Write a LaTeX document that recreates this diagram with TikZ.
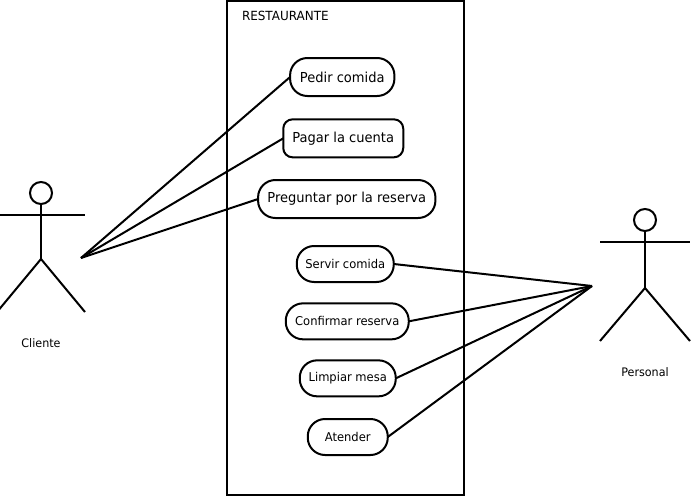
\documentclass[tikz,border=0pt]{standalone}
\usepackage{fontspec}
\setmainfont{DejaVu Sans}[FakeStretch=0.95]
\usetikzlibrary{positioning}

\begin{document}
\begin{tikzpicture}[
      x=0.75pt, y=-0.75pt,
      line width=1.5pt,
      caso/.style={draw, rounded corners=13pt, inner sep=0pt, outer sep=0pt, minimum height=27pt, align=center, font=\fontsize{9.1}{10}\selectfont},
      casog/.style={caso, minimum height=28.5pt, font=\fontsize{10.3}{11}\selectfont},
      cabeza/.style={draw, circle, inner sep=0pt, outer sep=0pt, minimum size=16.5pt},
      etiqueta/.style={inner sep=0pt, font=\fontsize{8.8}{10}\selectfont}
    ]
    \useasboundingbox (0,0) rectangle (699,496);

    % sistema
    \node[draw, inner sep=0pt, outer sep=0pt, minimum width=177.75pt, minimum height=370.5pt] (sistema) at (345.5,248) {};
    \node[etiqueta, anchor=west, font=\fontsize{9.45}{10}\selectfont] (titulo) at (241,16) {RESTAURANTE};

    % casos de uso
    \node[casog, minimum width=78.25pt] (pedir) at (342.25,77) {Pedir comida};
    \node[casog, minimum width=90pt, rounded corners=7pt, below=17.5pt of pedir, xshift=0.75pt] (pagar) {Pagar la cuenta};
    \node[casog, minimum width=133pt, below=17pt of pagar, xshift=2.625pt] (preguntar) {Preguntar por la reserva};
    \node[caso, minimum width=72.75pt, below=21pt of preguntar, xshift=-1.125pt] (servir) {Servir comida};
    \node[caso, minimum width=92.25pt, below=16pt of servir, xshift=1.5pt] (confirmar) {Confirmar reserva};
    \node[caso, minimum width=72pt, below=15.75pt of confirmar, xshift=0.375pt] (limpiar) {Limpiar mesa};
    \node[caso, minimum width=60pt, below=17pt of limpiar] (atender) {Atender};

    % actores
    \node[cabeza] (cabezacliente) at (41,193) {};
    \coordinate (cadera1) at (41,259);
    \draw (cabezacliente) -- (cadera1);
    \draw (-3,215) -- (85,215);
    \draw (-3,312) -- (cadera1) -- (85,312);
    \node[etiqueta, below=108.5pt of cabezacliente.center] (cliente) {Cliente};

    \node[cabeza] (cabezapersonal) at (645,220) {};
    \coordinate (cadera2) at (645,288);
    \draw (cabezapersonal) -- (cadera2);
    \draw (600,242) -- (690,242);
    \draw (600,341) -- (cadera2) -- (690,341);
    \node[etiqueta, below=110pt of cabezapersonal.center] (personal) {Personal};

    % conexiones
    \coordinate (c1) at (81,258);
    \coordinate (c2) at (592,286);
    \draw (c1) -- (pedir.west);
    \draw (c1) -- (pagar.west);
    \draw (c1) -- (preguntar.west);
    \draw (c2) -- (servir.east);
    \draw (c2) -- (confirmar.east);
    \draw (c2) -- (limpiar.east);
    \draw (c2) -- (atender.east);
  \end{tikzpicture}
\end{document}
